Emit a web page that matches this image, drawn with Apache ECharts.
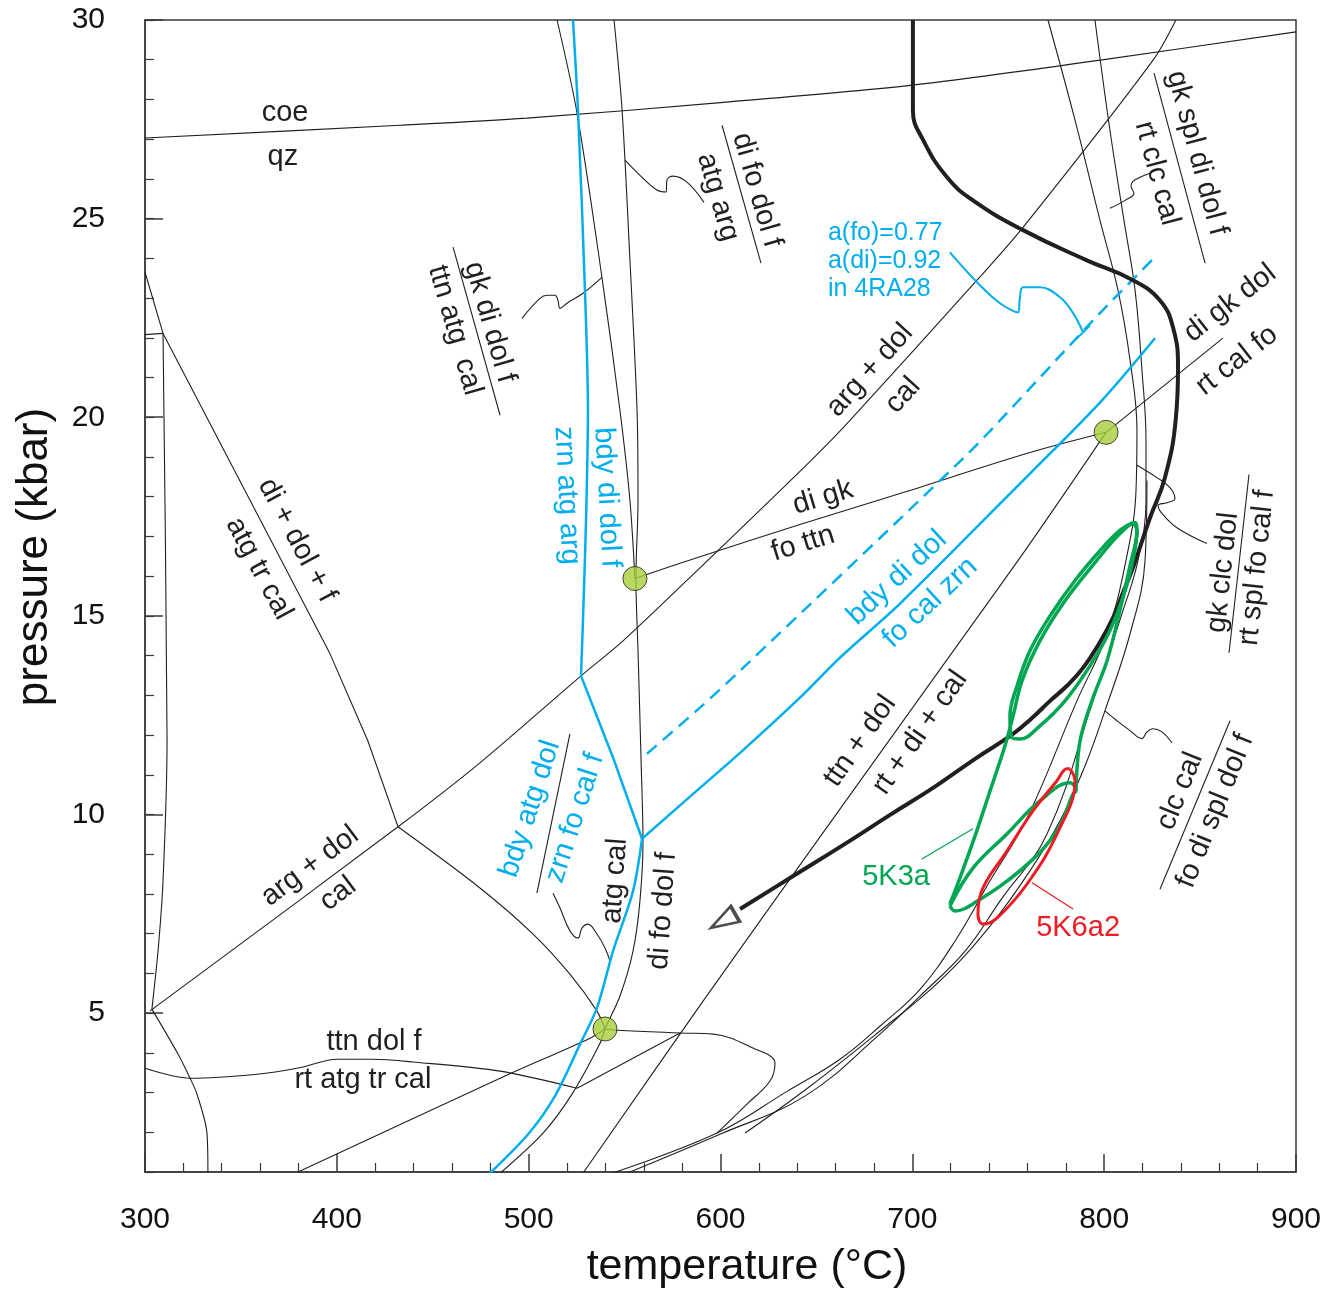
<!DOCTYPE html>
<html><head><meta charset="utf-8">
<script src="https://cdn.jsdelivr.net/npm/echarts@6/dist/echarts.min.js"></script>
<style>html,body{margin:0;padding:0;background:#fff}#c{width:1334px;height:1293px}</style>
</head><body><div id="c"></div>
<script>
// ---------- axis ticks ----------
const yMajorTicks = [5, 10, 15, 20, 25, 30];

// ---------- thin black reaction lines [T (°C), P (kbar)] ----------
const coeQz = [[300,27.03],[433,27.35],[499,27.53],[600,27.92],[700,28.36],[798,28.99],[900,29.70]];
const diDolF = [[300,23.65],[309.4,22.11],[396.4,14.05],[416.2,11.85],[431.9,9.69]];
const leftStub = [[300,22.08],[309.4,22.11]];
const leftVertical = [[309.4,22.11],[311.5,11.85],[309.4,8.33],[306.8,6.56],[303.6,5.10]];
const leftLower = [[303.6,5.10],[317.2,3.97],[323.5,3.36],[327.1,2.96],[332.3,1.98],[332.8,0.97]];
const argDolCal = [[302.5,5.05],[431.9,9.69],[474.6,11.30],[527.3,13.49],[549.2,14.37],[589.3,16.21],[648.2,18.96],[667.5,19.92],[733.7,23.45],[757.7,24.78],[825.5,28.99],[837.4,30]];
const atgLowerLine = [[431.9,9.69],[474.6,8.15],[502.3,6.99],[521.5,5.98],[535.6,5.05],[539.8,4.60]];
const ttnDolF = [[300,3.61],[323.5,3.36],[358.4,3.46],[379.2,3.61],[400.1,3.84],[418.9,3.84],[439.7,3.77],[485.1,3.54],[525.2,3.11]];
const junctionLine = [[525.2,3.11],[578.9,4.50]];
const lowRise = [[379.2,0.99],[485.1,3.36],[532.0,4.37],[539.8,4.60]];
const loopCurve = [[539.8,4.60],[546.0,4.57],[578.9,4.50],[596.1,4.47],[616.9,4.12],[628.4,3.74],[625.8,3.29],[613.8,2.71],[598.2,1.98]];
const atgCalLine = [[544.5,30],[548.7,27.73],[552.8,23.95],[556.5,20.17],[557.0,17.90],[555.9,15.94],[557.0,14.12],[558.6,11.35],[559.6,9.33],[558.0,7.82],[554.4,6.56],[547.6,5.43],[539.8,4.60],[537.2,4.24],[522.6,2.96],[507.5,1.98],[485.1,0.97]];
const atgLeft = [[514.8,30],[525.2,27.66],[538.2,23.52],[547.6,20.17],[552.8,17.90],[555.4,15.94]];
const diGkFoTtn = [[555.4,15.94],[589.3,16.49],[641.4,17.30],[693.6,18.08],[761.3,19.11],[801.0,19.62]];
const diGkDol = [[801.0,19.62],[861.9,21.99]];
const ttnDolRt = [[801,19.62],[761.3,16.82],[719.6,14.0],[650.3,9.33],[590.9,5.30],[528.3,0.97]];
const curveR1 = [[770.7,30],[784.8,27.48],[797.8,24.96],[807.2,23.20],[813.5,21.43],[817.1,19.67],[816.6,18.16],[812.4,16.64],[801.5,14.55],[785.8,12.86],[759.8,9.91],[740.5,8.33],[722.2,6.81],[704.0,5.60],[683.1,4.67],[662.3,3.84],[634.7,3.03],[598.2,1.98],[543.4,0.97]];
const curveR2 = [[795.2,30],[803.0,27.23],[810.3,24.96],[816.1,23.20],[819.7,21.18],[821.8,19.42],[821.8,17.90],[817.6,16.39],[809.8,15.13],[794.2,12.86],[770.2,9.51],[745.7,7.82],[727.5,6.56],[704.0,5.43],[683.1,4.47],[644.0,2.91],[599.7,1.95],[551.3,0.97]];
const curveR3 = [[612.8,1.98],[646.7,3.16],[683.1,4.55],[714.4,5.81],[740.5,7.19],[761.3,8.58],[777.0,9.84],[790.0,11.22],[800.4,12.61],[813.5,14.55],[821.3,16.39],[822.3,18.41]];

// ---------- leaders & fraction bars ----------
const leaderDiFo = [[550.2,26.47],[558.0,26.09],[566.9,25.72],[571.6,25.67],[572.1,25.97],[575.2,26.07],[582.5,25.92],[591.4,25.41]];
const leaderGkDi = [[496.5,22.49],[505.9,22.99],[509.6,23.07],[513.7,23.07],[515.3,22.94],[516.3,22.74],[520.0,22.87],[528.3,23.12],[538.2,23.52]];
const leaderGkSpl = [[803.0,25.26],[810.9,25.46],[815.5,25.64],[814.0,25.82],[815.0,25.94],[818.7,26.04],[823.9,26.14]];
const leaderGkClc = [[817.1,18.79],[827.5,18.48],[834.3,18.23],[836.9,17.95],[832.7,17.85],[828.1,17.78],[830.1,17.58],[837.9,17.22],[853.6,16.82]];
const leaderClcCal = [[800.4,12.61],[806.7,12.36],[813.5,12.11],[819.7,11.91],[822.3,12.08],[825.4,12.16],[830.1,12.08],[835.4,11.80]];
const leaderAtgCal = [[512.7,8.02],[516.3,7.65],[521.5,7.07],[525.7,6.89],[527.8,7.14],[530.9,7.24],[535.6,6.99],[539.8,6.64],[542.4,6.31]];
const barGkSpl = [[826.0,28.66],[852.6,23.88]];
const barDiFo = [[600.8,27.35],[621.1,23.88]];
const barGkDi = [[460.6,24.28],[485.1,20.05]];
const barBdyAtg = [[521.5,12.03],[504.3,8.02]];
const barGkClc = [[875.5,18.56],[865.1,14.07]];
const barClcCal = [[865.6,12.36],[829.1,8.12]];

// ---------- blue (activity-corrected) lines ----------
const bdyVertical = [[523.1,30],[525.7,27.73],[529.4,23.12],[530.9,20.17],[529.9,17.40],[528.3,14.88],[527.3,13.49]];
const bdyKinkDown = [[527.3,13.49],[544.0,11.43],[559.1,9.39]];
const bdyLower = [[559.1,9.39],[554.4,8.07],[544.0,6.56],[535.6,5.13],[526.8,4.22],[513.7,2.91],[499.7,1.95],[479.8,0.97]];
const bdyDiag = [[559.1,9.39],[589.3,10.67],[610.2,11.55],[641.4,12.94],[662.3,13.95],[693.6,15.31],[747.3,17.90],[761.3,18.58],[797.8,20.37],[826.5,21.99]];
const bdyDashed = [[561.7,11.53],[589.3,12.69],[610.2,13.62],[726.4,18.96],[745.7,19.92],[797.8,22.62],[827.5,24.08]];
const blueLeader = [[719.6,24.15],[733.7,23.40],[745.7,22.87],[755.1,22.64],[756.1,23.02],[757.7,23.27],[766.5,23.27],[777.0,23.02],[783.8,22.62],[789.0,22.14]];
const blueLeaderBar = [[785.3,21.96],[792.6,22.31]];

// ---------- P-T path ----------
const ptPath = [[700.3,30],[700.3,27.73],[705.6,26.98],[718.1,26.04],[731.6,25.46],[757.7,24.71],[791.0,23.95],[815.0,23.45],[829.1,22.94],[835.9,22.26],[838.5,21.25],[837.4,19.99],[831.7,18.48],[823.9,17.47],[815.0,16.21],[809.8,15.58],[804.6,14.95],[797.3,14.30],[789.0,13.69],[780.6,13.24],[771.8,12.86],[762.4,12.43],[752.5,12.03],[732.7,11.40],[711.8,10.70],[688.4,9.99],[664.9,9.26],[636.2,8.40],[610.2,7.62]];
const ptArrow = [[601.3,7.32]];

// ---------- samples ----------
const green5K3aUpper = [[815.0,17.35],[808.2,17.15],[797.8,16.64],[784.8,15.89],[771.8,15.00],[761.3,14.12],[754.6,13.24],[750.9,12.48],[752.0,11.93],[756.1,11.90],[766.5,12.23],[779.6,12.86],[792.6,13.74],[803.0,14.63],[810.9,15.63],[815.5,16.52],[817.1,17.15],[815.0,17.35]];
const green5K3aLong = [[785.3,10.59],[787.4,11.85],[793.6,12.86],[801.5,13.87],[808.2,15.13],[813.5,16.27],[817.1,17.15],[816.1,17.35],[807.2,17.02],[795.2,16.34],[779.6,15.38],[766.5,14.37],[757.2,13.37],[752.5,12.48],[748.3,11.73],[740.5,10.59],[732.7,9.46],[724.8,8.40],[719.6,7.75]];
const green5K3aLower = [[719.6,7.70],[731.6,8.65],[749.3,9.51],[766.5,10.34],[782.2,10.80],[785.3,10.59],[783.8,10.52],[775.4,9.59],[757.7,8.65],[731.6,7.75],[722.2,7.57],[719.6,7.70]];
const red5K6a2 = [[782.2,11.15],[784.8,10.85],[775.4,9.51],[759.8,8.25],[744.1,7.39],[736.8,7.24],[734.2,7.49],[736.8,8.15],[749.3,9.08],[762.9,10.09],[775.4,10.85],[780.6,11.15],[782.2,11.15]];
const greenLeader = [[705.0,8.88],[731.6,9.64]];
const redLeader = [[762.4,8.28],[783.8,7.62]];
const invariantPoints = [[555.4,15.94],[539.8,4.60],[801.0,19.62]];

// ---------- labels: [text, T, P, rotation°(ccw), colour] ----------
const annotations = [
  ['coe',373.0,27.66,0,'k'],['qz',371.9,26.55,0,'k'],
  ['di fo dol f',619.0,25.72,-74,'k'],['atg arg',598.7,25.54,-74,'k'],
  ['gk di dol f',479.8,22.39,-74,'k'],['ttn atg  cal',461.6,22.19,-74,'k'],
  ['di + dol + f',379.2,16.90,-62,'k'],['atg tr cal',359.4,16.19,-62,'k'],
  ['bdy di dol f',540.8,17.98,-87,'b'],['zrn atg arg',520.0,18.03,-87,'b'],
  ['arg + dol',677.9,21.18,48,'k'],['cal',695.1,20.55,48,'k'],
  ['arg + dol',386.0,8.70,37,'k'],['cal',400.6,8.0,37,'k'],
  ['di gk',653.4,17.98,17,'k'],['fo ttn',643.0,16.82,17,'k'],
  ['bdy di dol',692.0,15.96,43,'b'],['fo cal zrn',709.2,15.33,43,'b'],
  ['ttn + dol',672.7,11.85,55,'k'],['rt + di + cal',704.0,12.06,55,'k'],
  ['gk spl di dol f',848.4,26.65,-75,'k'],['rt clc cal',827.5,26.14,-75,'k'],
  ['di gk dol',865.6,22.87,38,'k'],['rt cal fo',869.2,21.43,38,'k'],
  ['gk clc dol',861.9,16.09,84,'k'],['rt spl fo cal f',879.7,16.21,84,'k'],
  ['clc cal',839.5,10.59,68,'k'],['fo di spl dol f',857.8,10.09,68,'k'],
  ['bdy atg dol',500.7,10.14,72,'b'],['zrn fo cal f',524.1,9.91,72,'b'],
  ['atg cal',545.0,8.33,86,'k'],['di fo dol f',570.0,7.57,86,'k'],
  ['ttn dol f',419.4,4.27,0,'k'],['rt atg tr cal',413.6,3.31,0,'k'],
  ['5K3a',691.5,8.43,0,'g'],['5K6a2',786.4,7.14,0,'r']
];
const activityNote = [['a(fo)=0.77',656.0,24.63],['a(di)=0.92',656.0,23.93],['in 4RA28',656.0,23.22]];

// ---------- styling ----------
const FONT = '"Liberation Sans", Arial, Helvetica, sans-serif';
const COL = {k:'#231f20', b:'#00aeef', g:'#00a651', r:'#ed1c24'};
const AX = '#3a3a3a';

function line(data, color, width, smooth, extra) {
  return Object.assign({
    type:'line', data:data, showSymbol:false, symbol:'none', smooth:smooth === undefined ? 0.3 : smooth,
    lineStyle:{color:color, width:width}, silent:true, animation:false, z:2,
    emphasis:{disabled:true}
  }, extra || {});
}
const thin = (d, s) => line(d, COL.k, 1.1, s);

const series = [
  thin(coeQz), thin(diDolF, 0), thin(leftStub, 0), thin(leftVertical, 0.2), thin(leftLower),
  thin(argDolCal), thin(atgLowerLine), thin(ttnDolF), thin(junctionLine, 0), thin(lowRise),
  thin(loopCurve, 0.4), thin(atgCalLine), thin(atgLeft), thin(diGkFoTtn), thin(diGkDol, 0),
  thin(ttnDolRt), thin(curveR1, 0.4), thin(curveR2, 0.4), thin(curveR3, 0.4),
  thin(leaderDiFo, 0.4), thin(leaderGkDi, 0.4), thin(leaderGkSpl, 0.4), thin(leaderGkClc, 0.4),
  thin(leaderClcCal, 0.4), thin(leaderAtgCal, 0.4),
  thin(barGkSpl, 0), thin(barDiFo, 0), thin(barGkDi, 0), thin(barBdyAtg, 0), thin(barGkClc, 0), thin(barClcCal, 0),
  line(bdyVertical, COL.b, 2.5, 0.3, {z:3}), line(bdyKinkDown, COL.b, 2.5, 0, {z:3}),
  line(bdyLower, COL.b, 2.5, 0.3, {z:3}), line(bdyDiag, COL.b, 2.5, 0.3, {z:3}),
  line(bdyDashed, COL.b, 2.5, 0.3, {z:3, lineStyle:{color:COL.b, width:2.5, type:[13,8]}}),
  line(blueLeader, COL.b, 2, 0.4, {z:3}), line(blueLeaderBar, COL.b, 2, 0, {z:3}),
  line(ptPath, COL.k, 4, 0.45, {z:5}),
  {type:'scatter', data:ptArrow, symbol:'triangle', symbolSize:[18,28], symbolRotate:120,
   itemStyle:{color:'#ffffff', borderColor:COL.k, borderWidth:3}, silent:true, z:6, animation:false},
  line(green5K3aUpper, COL.g, 3.5, 0.4, {z:7}), line(green5K3aLong, COL.g, 3.5, 0.35, {z:7}),
  line(green5K3aLower, COL.g, 3.5, 0.4, {z:7}), line(greenLeader, COL.g, 1.3, 0, {z:7}),
  line(red5K6a2, COL.r, 3, 0.4, {z:8}), line(redLeader, COL.r, 1.3, 0, {z:8}),
  {type:'scatter', data:invariantPoints, symbol:'circle', symbolSize:24,
   itemStyle:{color:'#a6ce39', borderColor:COL.k, borderWidth:1}, silent:true, z:10, animation:false}
];

const option = {
  animation:false,
  backgroundColor:'#ffffff',
  grid:{left:145, right:38, top:20, bottom:121, show:true, borderColor:AX, borderWidth:1.5, backgroundColor:'transparent', outerBoundsMode:'none', containLabel:false},
  xAxis:{type:'value', min:300, max:900, interval:100,
    axisLine:{show:true, onZero:false, lineStyle:{color:AX, width:1.5}},
    axisTick:{show:true, inside:true, length:18, lineStyle:{color:AX, width:1.5}},
    minorTick:{show:true, splitNumber:5, length:9, lineStyle:{color:AX, width:1.2}},
    axisLabel:{fontSize:30, color:'#111', margin:33, fontFamily:FONT},
    splitLine:{show:false}, minorSplitLine:{show:false}},
  yAxis:[
    {type:'value', min:1, max:30, interval:1,
      axisLine:{show:true, onZero:false, lineStyle:{color:AX, width:1.5}},
      axisTick:{show:true, inside:true, length:9, lineStyle:{color:AX, width:1.2}},
      axisLabel:{show:false}, splitLine:{show:false}},
    {type:'value', min:1, max:30, position:'left',
      axisLine:{show:false},
      axisTick:{show:true, inside:true, length:18, customValues:yMajorTicks, lineStyle:{color:AX, width:1.5}},
      axisLabel:{show:true, customValues:yMajorTicks, fontSize:30, color:'#111', margin:40, fontFamily:FONT},
      splitLine:{show:false}}
  ],
  series:series.map(s => Object.assign({xAxisIndex:0, yAxisIndex:0}, s))
};

const chart = echarts.init(document.getElementById('c'), null, {renderer:'canvas'});
chart.setOption(option);

const graphics = [];
annotations.forEach(a => {
  const p = chart.convertToPixel({gridIndex:0}, [a[1], a[2]]);
  graphics.push({type:'text', x:p[0], y:p[1], rotation:a[3]*Math.PI/180, silent:true, z:100,
    style:{text:a[0], fontSize:29, fontFamily:FONT, fill:COL[a[4]], align:'center', verticalAlign:'middle'}});
});
activityNote.forEach(a => {
  const p = chart.convertToPixel({gridIndex:0}, [a[1], a[2]]);
  graphics.push({type:'text', x:p[0], y:p[1], silent:true, z:100,
    style:{text:a[0], fontSize:25, fontFamily:FONT, fill:COL.b, align:'left', verticalAlign:'middle'}});
});
graphics.push({type:'text', x:747, y:1267, silent:true, z:100,
  style:{text:'temperature (°C)', fontSize:43, fontFamily:FONT, fill:'#111', align:'center', verticalAlign:'middle'}});
graphics.push({type:'text', x:35, y:557, rotation:Math.PI/2, silent:true, z:100,
  style:{text:'pressure (kbar)', fontSize:44, fontFamily:FONT, fill:'#111', align:'center', verticalAlign:'middle'}});
chart.setOption({graphic:graphics});
</script>
</body></html>
